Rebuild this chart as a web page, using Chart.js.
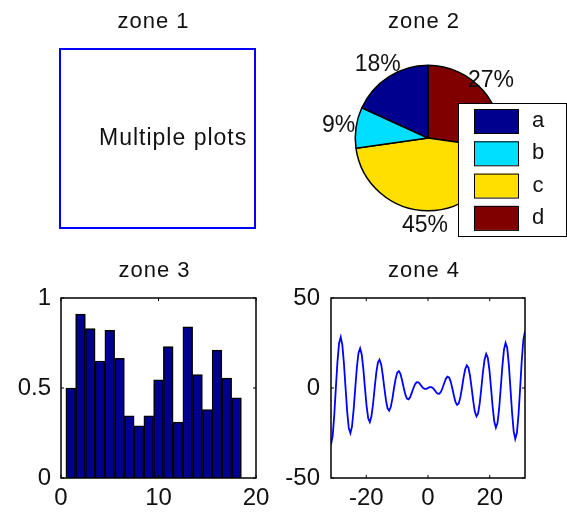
<!DOCTYPE html>
<html>
<head>
<meta charset="utf-8">
<title>zones</title>
<script src="https://cdn.jsdelivr.net/npm/chart.js@4.4.1/dist/chart.umd.min.js"></script>
<style>
  html, body { margin: 0; padding: 0; background: #fff; }
  body { width: 567px; height: 513px; position: relative; overflow: hidden; }
  canvas { position: absolute; }
</style>
</head>
<body>
<canvas id="zone1" width="283" height="250" style="left:0;top:0"></canvas>
<canvas id="zone2" width="284" height="250" style="left:283px;top:0"></canvas>
<canvas id="zone3" width="283" height="263" style="left:0;top:250px"></canvas>
<canvas id="zone4" width="284" height="263" style="left:283px;top:250px"></canvas>
<script>
// ---- data ----
const zoneTitles = ['zone 1', 'zone 2', 'zone 3', 'zone 4'];

const noteText = 'Multiple plots';
const noteAt = [0.2, 0.5];

const pieLabels = ['a', 'b', 'c', 'd'];
const pieValues = [2, 1, 5, 3];
const pieColors = ['#00008F', '#00DFFF', '#FFDF00', '#800000'];

const barX = [1, 2, 3, 4, 5, 6, 7, 8, 9, 10, 11, 12, 13, 14, 15, 16, 17, 18];
const barValues = [0.50, 0.91, 0.83, 0.65, 0.82, 0.665, 0.345, 0.29, 0.345,
                   0.545, 0.73, 0.31, 0.84, 0.575, 0.38, 0.71, 0.555, 0.445];
const barXTicks = [0, 10, 20];
const barYTicks = [0, 0.5, 1];

const waveX = [
  -31.42, -30.89, -30.37, -29.85, -29.32, -28.80, -28.27, -27.75, -27.23, -26.70,
  -26.18, -25.66, -25.13, -24.61, -24.09, -23.56, -23.04, -22.51, -21.99, -21.47,
  -20.94, -20.42, -19.90, -19.37, -18.85, -18.33, -17.80, -17.28, -16.76, -16.23,
  -15.71, -15.18, -14.66, -14.14, -13.61, -13.09, -12.57, -12.04, -11.52, -11.00,
  -10.47, -9.95, -9.42, -8.90, -8.38, -7.85, -7.33, -6.81, -6.28, -5.76,
  -5.24, -4.71, -4.19, -3.67, -3.14, -2.62, -2.09, -1.57, -1.05, -0.52,
  0,
  0.52, 1.05, 1.57, 2.09, 2.62, 3.14, 3.67, 4.19, 4.71, 5.24,
  5.76, 6.28, 6.81, 7.33, 7.85, 8.38, 8.90, 9.42, 9.95, 10.47,
  11.00, 11.52, 12.04, 12.57, 13.09, 13.61, 14.14, 14.66, 15.18, 15.71,
  16.23, 16.76, 17.28, 17.80, 18.33, 18.85, 19.37, 19.90, 20.42, 20.94,
  21.47, 21.99, 22.51, 23.04, 23.56, 24.09, 24.61, 25.13, 25.66, 26.18,
  26.70, 27.23, 27.75, 28.27, 28.80, 29.32, 29.85, 30.37, 30.89, 31.42
];
const waveY = [
  -31.4, -26.8, -15.2, 0, 14.7, 24.9, 28.3, 24.0, 13.6, 0,
  -13.1, -22.2, -25.1, -21.3, -12.0, 0, 11.5, 19.5, 22.0, 18.6,
  10.5, 0, -9.9, -16.8, -18.9, -15.9, -8.9, 0, 8.4, 14.1,
  15.7, 13.2, 7.3, 0, -6.8, -11.3, -12.6, -10.4, -5.8, 0,
  5.2, 8.6, 9.4, 7.7, 4.2, 0, -3.7, -5.9, -6.3, -5.0,
  -2.6, 0, 2.1, 3.2, 3.1, 2.3, 1.0, 0, -0.5, -0.5,
  0,
  0.5, 0.5, 0, -1.0, -2.3, -3.1, -3.2, -2.1, 0, 2.6,
  5.0, 6.3, 5.9, 3.7, 0, -4.2, -7.7, -9.4, -8.6, -5.2,
  0, 5.8, 10.4, 12.6, 11.3, 6.8, 0, -7.3, -13.2, -15.7,
  -14.1, -8.4, 0, 8.9, 15.9, 18.9, 16.8, 9.9, 0, -10.5,
  -18.6, -22.0, -19.5, -11.5, 0, 12.0, 21.3, 25.1, 22.2, 13.1,
  0, -13.6, -24.0, -28.3, -24.9, -14.7, 0, 15.2, 26.8, 31.4
];
const waveXTicks = [-20, 0, 20];
const waveYTicks = [-50, 0, 50];

// ---- shared look ----
const FONT = '"Liberation Sans", Arial, Helvetica, sans-serif';
const INK = '#111';
Chart.defaults.font.family = FONT;
Chart.defaults.color = INK;
Chart.defaults.animation = false;
Chart.defaults.plugins.legend.display = false;
Chart.defaults.plugins.tooltip.enabled = false;

// title text above the axes box
function zoneTitle(text, dy) {
  return {
    id: 'zoneTitle',
    afterDraw(chart) {
      const { ctx, chartArea: a } = chart;
      ctx.save();
      ctx.font = '22px ' + FONT;
      ctx.letterSpacing = '1px';
      ctx.fillStyle = INK;
      ctx.textAlign = 'center';
      ctx.textBaseline = 'alphabetic';
      ctx.fillText(text, (a.left + a.right) / 2 - 4, a.top - dy);
      ctx.restore();
    }
  };
}

// black frame with short inward ticks on all four sides
const axesBox = {
  id: 'axesBox',
  afterDatasetsDraw(chart) {
    const { ctx, chartArea: a, scales } = chart;
    const len = 3;
    ctx.save();
    ctx.strokeStyle = '#000';
    ctx.lineWidth = 1.5;
    ctx.strokeRect(a.left, a.top, a.right - a.left, a.bottom - a.top);
    ctx.lineWidth = 1;
    ctx.beginPath();
    scales.x.ticks.forEach(t => {
      const px = scales.x.getPixelForValue(t.value);
      ctx.moveTo(px, a.bottom); ctx.lineTo(px, a.bottom - len);
      ctx.moveTo(px, a.top); ctx.lineTo(px, a.top + len);
    });
    scales.y.ticks.forEach(t => {
      const py = scales.y.getPixelForValue(t.value);
      ctx.moveTo(a.left, py); ctx.lineTo(a.left + len, py);
      ctx.moveTo(a.right, py); ctx.lineTo(a.right - len, py);
    });
    ctx.stroke();
    ctx.restore();
  }
};

function fixedTicks(list) {
  return scale => { scale.ticks = list.map(v => ({ value: v })); };
}

function axisOpts(min, max, tickList, isX, size, pad) {
  return {
    type: 'linear',
    min: min,
    max: max,
    offset: false,
    grid: { display: false, drawTicks: false },
    border: { display: false },
    ticks: {
      font: { size: 24 },
      color: INK,
      padding: pad,
      maxRotation: 0,
      callback: v => String(v)
    },
    afterBuildTicks: fixedTicks(tickList),
    afterFit: isX ? (s => { s.height = size; }) : (s => { s.width = size; })
  };
}

// ---- zone 1: framed text ----
new Chart(document.getElementById('zone1'), {
  type: 'scatter',
  data: { datasets: [] },
  options: {
    responsive: false,
    layout: { padding: { left: 60, top: 49, right: 28, bottom: 22 } },
    scales: {
      x: { min: 0, max: 1, display: false },
      y: { min: 0, max: 1, display: false }
    }
  },
  plugins: [zoneTitle(zoneTitles[0], 21), {
    id: 'note',
    afterDraw(chart) {
      const { ctx, chartArea: a, scales } = chart;
      ctx.save();
      ctx.strokeStyle = '#0000FF';
      ctx.lineWidth = 2;
      ctx.strokeRect(a.left, a.top, a.right - a.left, a.bottom - a.top);
      ctx.font = '23px ' + FONT;
      ctx.letterSpacing = '1px';
      ctx.fillStyle = INK;
      ctx.textAlign = 'left';
      ctx.textBaseline = 'middle';
      ctx.fillText(noteText, scales.x.getPixelForValue(noteAt[0]), scales.y.getPixelForValue(noteAt[1]));
      ctx.restore();
    }
  }]
});

// ---- zone 2: pie, slices run counter-clockwise from the top ----
const pieTotal = pieValues.reduce((s, v) => s + v, 0);
new Chart(document.getElementById('zone2'), {
  type: 'pie',
  data: {
    labels: pieLabels.slice().reverse(),
    datasets: [{
      data: pieValues.slice().reverse(),
      backgroundColor: pieColors.slice().reverse(),
      borderColor: '#000',
      borderWidth: 1.5
    }]
  },
  options: {
    responsive: false,
    layout: { padding: { left: 71.5, right: 65.5, top: 64, bottom: 38 } }
  },
  plugins: [zoneTitle(zoneTitles[1], 36), {
    id: 'pieText',
    afterDatasetsDraw(chart) {
      const { ctx } = chart;
      const vals = chart.data.datasets[0].data;
      ctx.save();
      ctx.font = '23px ' + FONT;
      ctx.fillStyle = INK;
      ctx.textAlign = 'center';
      ctx.textBaseline = 'middle';
      chart.getDatasetMeta(0).data.forEach((arc, i) => {
        const p = arc.getProps(['x', 'y', 'startAngle', 'endAngle', 'outerRadius'], true);
        const mid = (p.startAngle + p.endAngle) / 2;
        const r = p.outerRadius * 1.2;
        const pct = Math.round(vals[i] / pieTotal * 100) + '%';
        ctx.fillText(pct, p.x + r * Math.cos(mid) - 3, p.y + r * Math.sin(mid));
      });
      ctx.restore();
    },
    afterDraw(chart) {
      // legend box sits over the right part of the pie
      const { ctx } = chart;
      const bx = 175, by = 103, bw = 108, bh = 133;
      ctx.save();
      ctx.fillStyle = '#fff';
      ctx.fillRect(bx, by, bw, bh);
      ctx.strokeStyle = '#000';
      ctx.lineWidth = 1;
      ctx.strokeRect(bx + 0.5, by + 0.5, bw, bh);
      ctx.font = '22px ' + FONT;
      ctx.textAlign = 'center';
      ctx.textBaseline = 'middle';
      pieLabels.forEach((lab, i) => {
        const ry = by + 6 + i * 32.3;
        ctx.fillStyle = pieColors[i];
        ctx.fillRect(191, ry, 44, 24);
        ctx.strokeRect(191.5, ry + 0.5, 44, 24);
        ctx.fillStyle = INK;
        ctx.fillText(lab, 255, ry + 12);
      });
      ctx.restore();
    }
  }]
});

// ---- zone 3: bars ----
new Chart(document.getElementById('zone3'), {
  type: 'bar',
  data: {
    datasets: [{
      data: barX.map((x, i) => ({ x: x, y: barValues[i] })),
      backgroundColor: '#00008F',
      borderColor: '#000',
      borderWidth: 1.5,
      barPercentage: 1,
      categoryPercentage: 1
    }]
  },
  options: {
    responsive: false,
    layout: { padding: { left: 0, top: 48, right: 27, bottom: 0 } },
    scales: {
      x: axisOpts(0, 20, barXTicks, true, 35, 6),
      y: axisOpts(0, 1, barYTicks, false, 61, 10)
    }
  },
  plugins: [zoneTitle(zoneTitles[2], 21), axesBox]
});

// ---- zone 4: line ----
new Chart(document.getElementById('zone4'), {
  type: 'line',
  data: {
    datasets: [{
      data: waveX.map((x, i) => ({ x: x, y: waveY[i] })),
      borderColor: '#0000FF',
      borderWidth: 1.8,
      pointRadius: 0,
      tension: 0,
      fill: false
    }]
  },
  options: {
    responsive: false,
    layout: { padding: { left: 0, top: 48, right: 42, bottom: 0 } },
    scales: {
      x: axisOpts(-31.42, 31.42, waveXTicks, true, 35, 6),
      y: axisOpts(-50, 50, waveYTicks, false, 48, 11)
    }
  },
  plugins: [zoneTitle(zoneTitles[3], 21), axesBox]
});
</script>
</body>
</html>
